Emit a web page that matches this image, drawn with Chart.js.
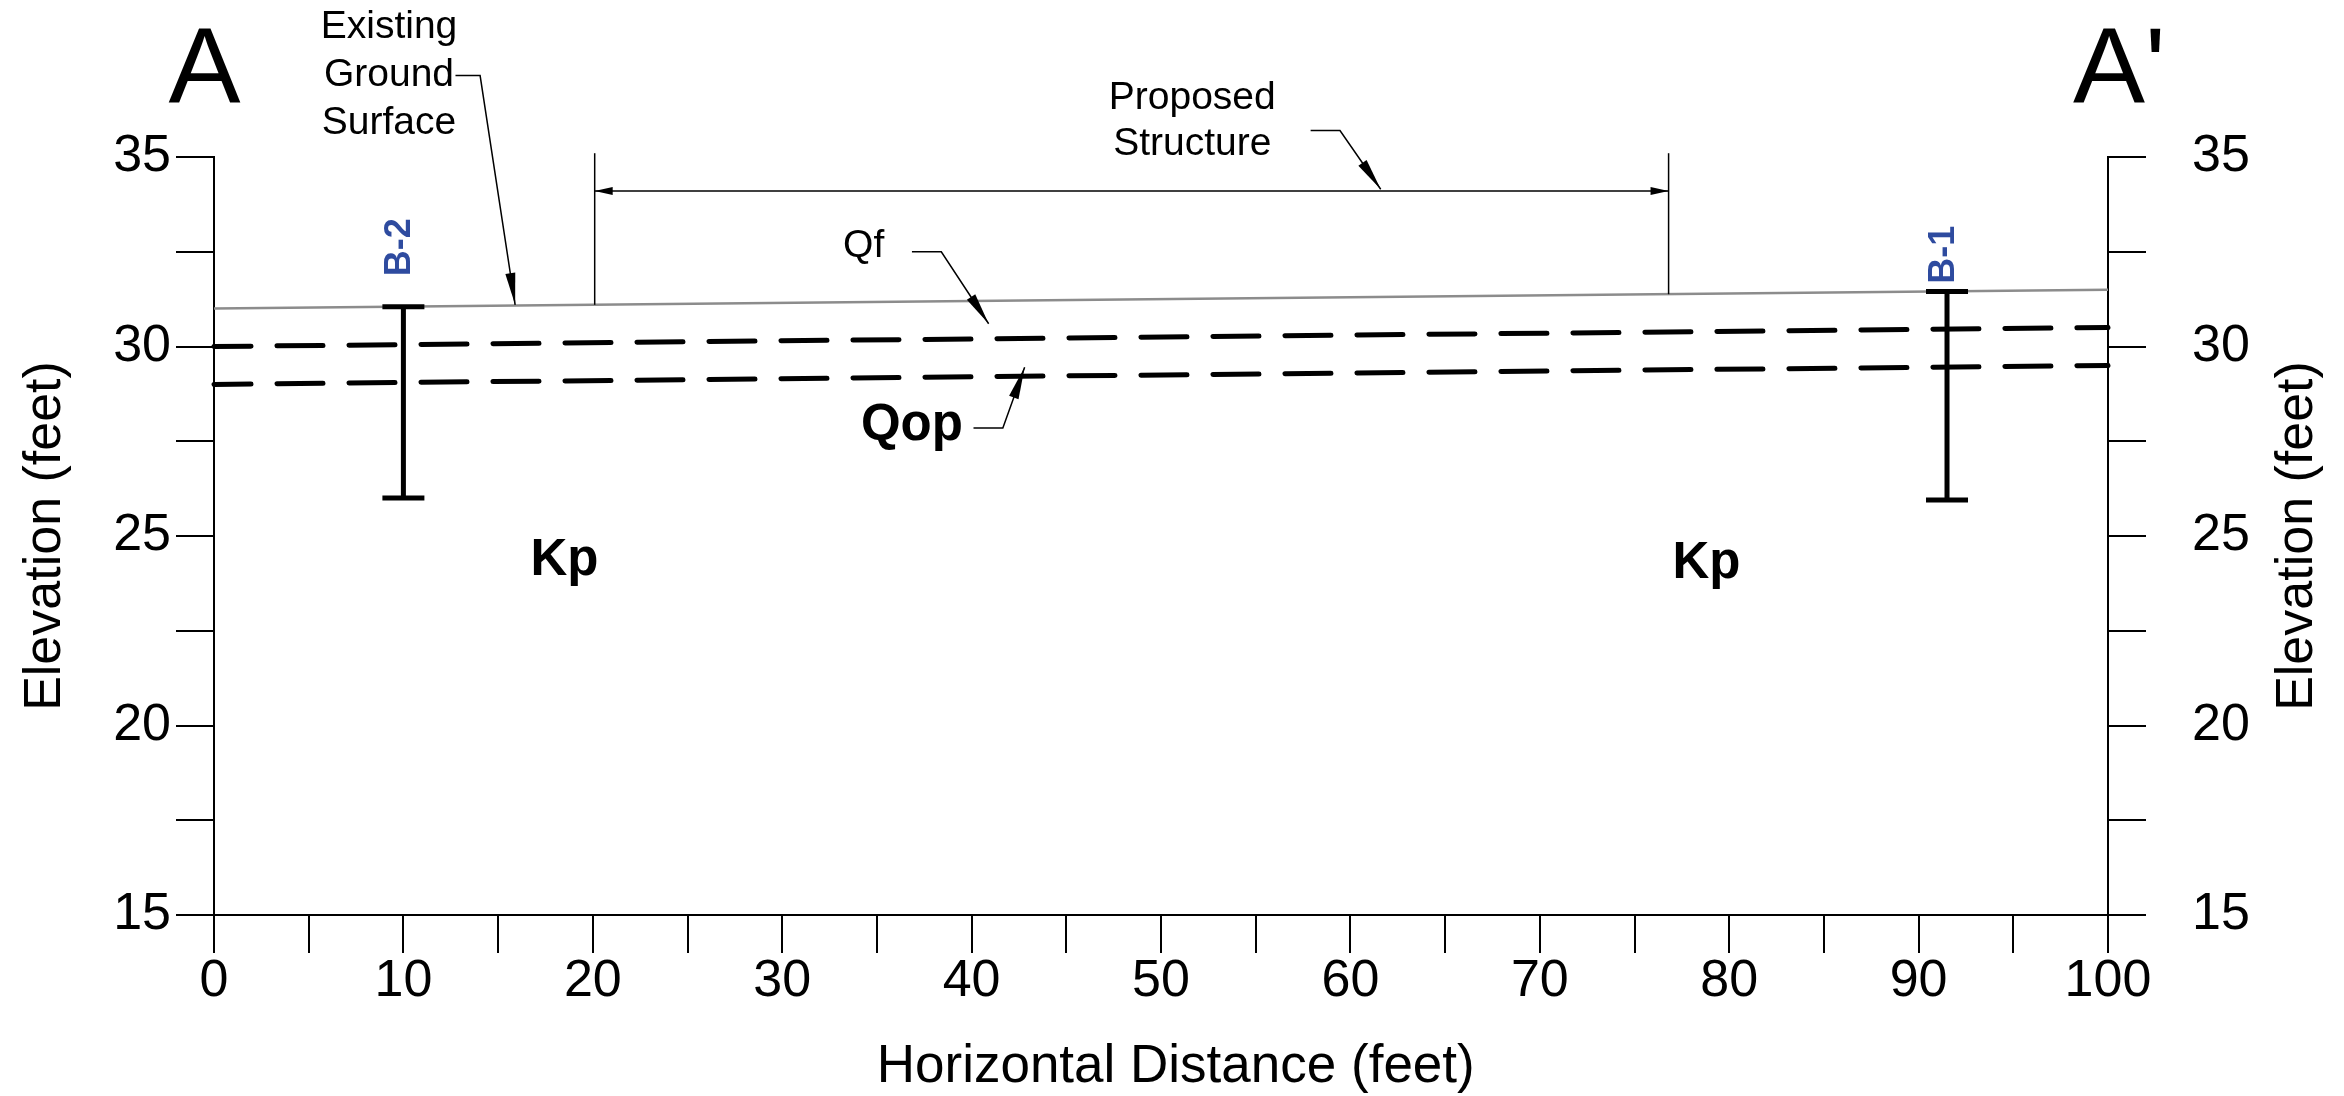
<!DOCTYPE html>
<html>
<head>
<meta charset="utf-8">
<script src="https://cdn.jsdelivr.net/npm/chart.js@4.4.1/dist/chart.umd.min.js"></script>
<style>
  html, body { margin: 0; padding: 0; background: #fff; }
  #wrap { width: 2344px; height: 1096px; position: relative; }
</style>
</head>
<body>
<div id="wrap"><canvas id="section"></canvas></div>
<script>
// Cross section A - A'
var distance = [0, 100];
var groundSurface = [31.0, 31.5];
var qfBase = [30.0, 30.5];
var qopBase = [29.0, 29.5];

var boringNames = ['B-2', 'B-1'];
var boringX = [10.0, 91.5];
var boringTop = [31.05, 31.45];
var boringBottom = [26.0, 25.95];

var structureX = [20.1, 76.8];
var structureBase = [31.1, 31.38];
var structureTop = 35.1;
var dimensionY = 34.1;

var xTickLabels = [0, 10, 20, 30, 40, 50, 60, 70, 80, 90, 100];
var yTickLabels = [15, 20, 25, 30, 35];

var FONT = "'Liberation Sans', Arial, Helvetica, sans-serif";

function pts(xs, ys) {
  return xs.map(function (x, i) { return { x: x, y: ys[i] }; });
}

// higher order = drawn first (underneath)
var datasets = [
  { label: 'Existing Ground Surface', data: pts(distance, groundSurface), borderColor: '#8c8c8c', borderWidth: 2.5, order: 10 },
  { label: 'Qf', data: pts(distance, qfBase), borderColor: '#000', borderWidth: 5, borderDash: [46, 26], borderDashOffset: 9, borderCapStyle: 'round', order: 5 },
  { label: 'Qop', data: pts(distance, qopBase), borderColor: '#000', borderWidth: 5, borderDash: [46, 26], borderDashOffset: 9, borderCapStyle: 'round', order: 5 }
];

// borings: vertical bar with end caps
boringNames.forEach(function (name, i) {
  datasets.push({
    label: name,
    data: [{ x: boringX[i], y: boringTop[i] }, { x: boringX[i], y: boringBottom[i] }],
    borderColor: '#000', borderWidth: 5,
    pointStyle: 'line', pointRadius: 21, pointBorderWidth: 5, pointBorderColor: '#000',
    order: 0
  });
});

// proposed structure limits + dimension line
structureX.forEach(function (x, i) {
  datasets.push({ label: 'Proposed Structure', data: [{ x: x, y: structureBase[i] }, { x: x, y: structureTop }], borderColor: '#000', borderWidth: 1.5, order: 1 });
});
datasets.push({ label: 'dimension', data: [{ x: structureX[0], y: dimensionY }, { x: structureX[1], y: dimensionY }], borderColor: '#000', borderWidth: 1.5, order: 1 });

// annotations, in data units
var headers = [{ text: 'A', x: -0.5, y: 37.2 }, { text: "A'", x: 100.6, y: 37.2 }];
var callouts = [
  { lines: ['Existing', 'Ground', 'Surface'], x: 9.24, y: 38.43, step: 1.265, leader: [[12.75, 37.15], [14.05, 37.15], [15.9, 31.1]] },
  { lines: ['Proposed', 'Structure'], x: 51.65, y: 36.55, step: 1.22, leader: [[57.9, 35.7], [59.45, 35.7], [61.6, 34.15]] },
  { lines: ['Qf'], x: 34.3, y: 32.65, step: 0, leader: [[36.85, 32.5], [38.4, 32.5], [40.9, 30.6]] }
];
var units = [
  { text: 'Qop', x: 36.85, y: 27.9, leader: [[40.1, 27.85], [41.65, 27.85], [42.8, 29.45]] },
  { text: 'Kp', x: 18.5, y: 24.35 },
  { text: 'Kp', x: 78.8, y: 24.25 }
];
var boringLabelY = [32.62, 32.42];

function arrowHead(ctx, x0, y0, x1, y1, len, half) {
  var a = Math.atan2(y1 - y0, x1 - x0);
  ctx.beginPath();
  ctx.moveTo(x1, y1);
  ctx.lineTo(x1 - len * Math.cos(a) + half * Math.sin(a), y1 - len * Math.sin(a) - half * Math.cos(a));
  ctx.lineTo(x1 - len * Math.cos(a) - half * Math.sin(a), y1 - len * Math.sin(a) + half * Math.cos(a));
  ctx.closePath();
  ctx.fill();
}

function drawLeader(ctx, sx, sy, leader) {
  ctx.beginPath();
  leader.forEach(function (p, i) {
    var px = sx.getPixelForValue(p[0]), py = sy.getPixelForValue(p[1]);
    if (i === 0) ctx.moveTo(px, py); else ctx.lineTo(px, py);
  });
  ctx.stroke();
  var n = leader.length;
  arrowHead(ctx,
    sx.getPixelForValue(leader[n - 2][0]), sy.getPixelForValue(leader[n - 2][1]),
    sx.getPixelForValue(leader[n - 1][0]), sy.getPixelForValue(leader[n - 1][1]), 32, 5);
}

var sectionNotes = {
  id: 'sectionNotes',
  afterDraw: function (chart) {
    var ctx = chart.ctx, sx = chart.scales.x, sy = chart.scales.y;
    ctx.save();
    ctx.fillStyle = '#000';
    ctx.strokeStyle = '#000';
    ctx.lineWidth = 1.5;
    ctx.textAlign = 'center';
    ctx.textBaseline = 'middle';

    ctx.font = '108px ' + FONT;
    headers.forEach(function (h) {
      ctx.fillText(h.text, sx.getPixelForValue(h.x), sy.getPixelForValue(h.y));
    });

    ctx.font = '39px ' + FONT;
    callouts.forEach(function (c) {
      c.lines.forEach(function (t, i) {
        ctx.fillText(t, sx.getPixelForValue(c.x), sy.getPixelForValue(c.y - i * c.step));
      });
      drawLeader(ctx, sx, sy, c.leader);
    });

    ctx.font = 'bold 51px ' + FONT;
    units.forEach(function (u) {
      ctx.fillText(u.text, sx.getPixelForValue(u.x), sy.getPixelForValue(u.y));
      if (u.leader) drawLeader(ctx, sx, sy, u.leader);
    });

    // dimension arrows of the proposed structure
    var dy = sy.getPixelForValue(dimensionY);
    var l = sx.getPixelForValue(structureX[0]), r = sx.getPixelForValue(structureX[1]);
    arrowHead(ctx, l + 30, dy, l, dy, 18, 4);
    arrowHead(ctx, r - 30, dy, r, dy, 18, 4);

    // boring names, rotated
    ctx.font = 'bold 36px ' + FONT;
    ctx.fillStyle = '#2e4b9f';
    boringNames.forEach(function (name, i) {
      ctx.save();
      ctx.translate(sx.getPixelForValue(boringX[i]) - 3, sy.getPixelForValue(boringLabelY[i]));
      ctx.rotate(-Math.PI / 2);
      ctx.fillText(name, 0, 0);
      ctx.restore();
    });

    // right axis title reads bottom to top like the left one
    ctx.fillStyle = '#000';
    ctx.font = '52px ' + FONT;
    ctx.save();
    ctx.translate(2298, (chart.chartArea.top + chart.chartArea.bottom) / 2);
    ctx.rotate(-Math.PI / 2);
    ctx.fillText('Elevation (feet)', 0, 0);
    ctx.restore();
    ctx.restore();
  }
};

var tickFont = { family: FONT, size: 52, lineHeight: 1 };
var axisGrid = { drawOnChartArea: false, drawTicks: true, tickLength: 38, color: '#000', lineWidth: 2 };
var axisBorder = { display: true, color: '#000', width: 2 };

function yLabel(v) { return yTickLabels.indexOf(v) >= 0 ? String(v) : ''; }

var chart = new Chart(document.getElementById('section'), {
  type: 'line',
  data: { datasets: datasets },
  options: {
    responsive: true,
    maintainAspectRatio: false,
    animation: false,
    layout: { padding: { top: 157, left: 0, right: 0, bottom: 0 } },
    elements: { point: { radius: 0 }, line: { tension: 0, fill: false } },
    datasets: { line: { clip: false } },
    plugins: { legend: { display: false }, tooltip: { enabled: false } },
    scales: {
      x: {
        type: 'linear', min: 0, max: 100,
        grid: axisGrid, border: axisBorder,
        ticks: {
          stepSize: 5, autoSkip: false, maxRotation: 0, padding: 3, color: '#000', font: tickFont,
          callback: function (v) { return xTickLabels.indexOf(v) >= 0 ? String(v) : ''; }
        },
        title: { display: true, text: '  Horizontal Distance (feet)', color: '#000', font: { family: FONT, size: 53, lineHeight: 1 }, padding: { top: 0, bottom: 2 } },
        afterFit: function (s) { s.height = 181; }
      },
      y: {
        type: 'linear', position: 'left', min: 15, max: 35,
        grid: axisGrid, border: axisBorder,
        ticks: { stepSize: 2.5, autoSkip: false, padding: 5, color: '#000', font: tickFont, callback: yLabel },
        title: { display: true, text: 'Elevation (feet)', color: '#000', font: { family: FONT, size: 52, lineHeight: 1.2 }, padding: { top: 14, bottom: 0 } },
        afterFit: function (s) { s.width = 214; }
      },
      y2: {
        type: 'linear', position: 'right', min: 15, max: 35,
        grid: axisGrid, border: axisBorder,
        ticks: { stepSize: 2.5, autoSkip: false, padding: 46, color: '#000', font: tickFont, callback: yLabel },
        afterFit: function (s) { s.width = 236; }
      }
    }
  },
  plugins: [sectionNotes]
});
</script>
</body>
</html>
